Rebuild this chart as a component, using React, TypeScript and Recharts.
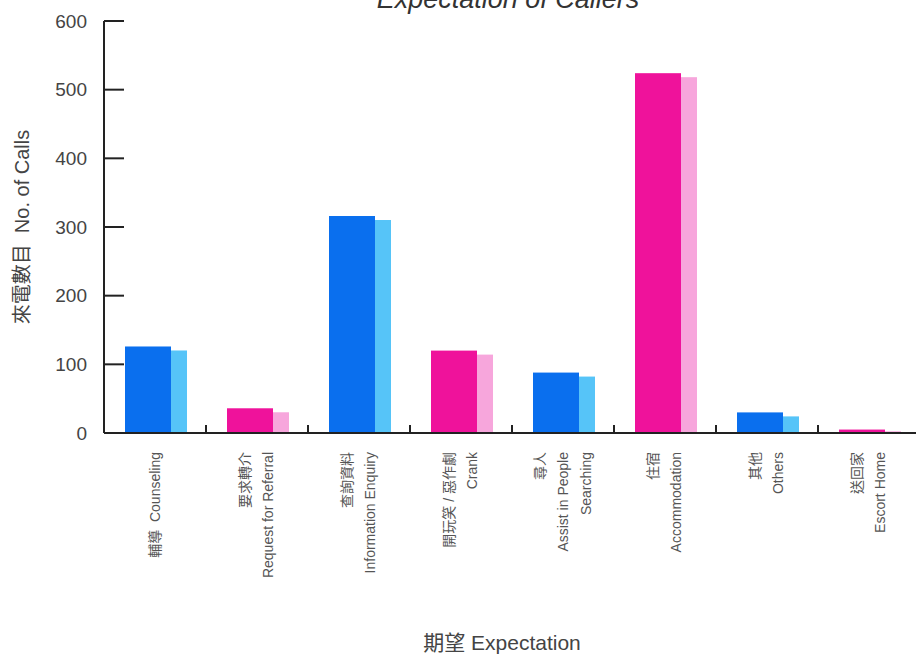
import { BarChart, Bar, XAxis, YAxis, Customized } from 'recharts';

// categories in chart order
const categories = ['counseling', 'referral', 'enquiry', 'crank', 'searching', 'accommodation', 'others', 'escort'];
const tickLines = [
  ['輔導\u00a0\u00a0Counseling'],
  ['要求轉介', 'Request for Referral'],
  ['查詢資料', 'Information Enquiry'],
  ['開玩笑 / 惡作劇', 'Crank'],
  ['尋人', 'Assist in People', 'Searching'],
  ['住宿', 'Accommodation'],
  ['其他', 'Others'],
  ['送回家', 'Escort Home'],
];
const calls = [126, 36, 316, 120, 88, 524, 30, 5];
const yTicks = [0, 100, 200, 300, 400, 500, 600];

const FONT = '"Liberation Sans", Arial, "Noto Sans CJK TC", sans-serif';
const INK = '#222';
const TEXT = '#444';
const MAIN = ['#0a6fee', '#ef129b'];
const SHADE = ['#56c4f8', '#f7a6dc'];

const data = categories.map((key, i) => ({ key, calls: calls[i] }));

const STEP = 102;

function ShadowBar(props: any) {
  const { x, y, height, index } = props;
  if (!height || height <= 0) return null;
  const c = index % 2;
  const mainW = 46;
  const drop = Math.min(4, height * 0.5);
  return (
    <g>
      <rect x={x + 1 + mainW} y={y + drop} width={16} height={height - drop} fill={SHADE[c]} />
      <rect x={x + 1} y={y} width={mainW} height={height} fill={MAIN[c]} />
    </g>
  );
}

function CategoryTick(props: any) {
  const { x, y, payload } = props;
  const i = categories.indexOf(payload.value);
  const lines = tickLines[i] || [];
  return (
    <g>
      {i < categories.length - 1 && (
        <line x1={x + STEP / 2} x2={x + STEP / 2} y1={y} y2={y - 8} stroke={INK} strokeWidth={2} />
      )}
      {lines.map((t, k) => (
        <text
          key={k}
          transform={`translate(${x + (k - (lines.length - 1) / 2) * 23},${y + 19}) rotate(-90)`}
          textAnchor="end"
          dy="0.35em"
          fontSize={14}
          fontFamily={FONT}
          fill="#555"
        >
          {t}
        </text>
      ))}
    </g>
  );
}

function ValueTick(props: any) {
  const { x, y, payload } = props;
  return (
    <g>
      <line x1={x} x2={x + 20} y1={y} y2={y} stroke={INK} strokeWidth={2} />
      <text x={x - 17} y={y} dy="0.35em" textAnchor="end" fontSize={19} fontFamily={FONT} fill={TEXT}>
        {payload.value}
      </text>
    </g>
  );
}

function Title() {
  return (
    <text x={508} y={8} textAnchor="middle" fontSize={27} fontStyle="italic" fontFamily={FONT} fill="#333">
      Expectation of Callers
    </text>
  );
}

export default function App() {
  return (
    <div style={{ position: 'absolute', left: 0, top: 0, background: '#fff' }}>
      <BarChart width={916} height={656} data={data} margin={{ top: 21, right: -4, bottom: 0, left: 0 }}>
        <Customized component={Title} />
        <XAxis
          dataKey="key"
          height={223}
          interval={0}
          tickLine={false}
          tickSize={0}
          tickMargin={0}
          axisLine={{ stroke: INK, strokeWidth: 2 }}
          tick={<CategoryTick />}
          label={{
            content: () => (
              <text x={502} y={650} textAnchor="middle" fontSize={21} fontFamily={FONT} fill={TEXT}>
                期望 Expectation
              </text>
            ),
          }}
        />
        <YAxis
          width={104}
          domain={[0, 600]}
          ticks={yTicks}
          interval={0}
          tickLine={false}
          tickSize={0}
          tickMargin={0}
          axisLine={{ stroke: INK, strokeWidth: 2 }}
          tick={<ValueTick />}
          label={{
            content: (p: any) => {
              const vb = p.viewBox || { x: 0, y: 21, width: 104, height: 412 };
              const cx = 22;
              const cy = vb.y + vb.height / 2;
              return (
                <text
                  transform={`translate(${cx},${cy}) rotate(-90)`}
                  textAnchor="middle"
                  dy="0.35em"
                  fontSize={20}
                  fontFamily={FONT}
                  fill={TEXT}
                >
                  來電數目{'\u00a0\u00a0'}No. of Calls
                </text>
              );
            },
          }}
        />
        <Bar dataKey="calls" barSize={62} shape={<ShadowBar />} isAnimationActive={false} />
      </BarChart>
    </div>
  );
}
